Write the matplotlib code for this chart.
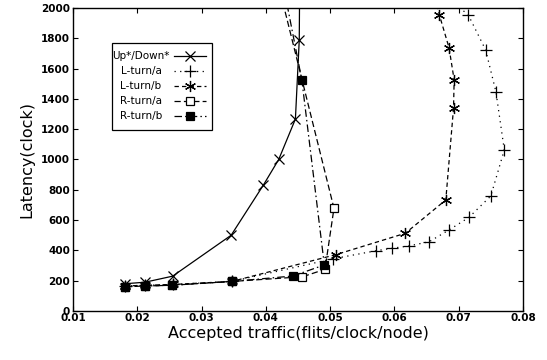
import matplotlib.pyplot as plt
from matplotlib.lines import Line2D
from matplotlib.patches import Rectangle

# Datos
updown_x = [0.0181, 0.0212, 0.0255, 0.0346, 0.0396, 0.0420, 0.0446, 0.0452, 0.0454]
updown_y = [180, 190, 230, 500, 830, 1000, 1267, 1790, 3000]

lturn_a_x = [0.0181, 0.0212, 0.0255, 0.0347, 0.0505, 0.0572, 0.0596, 0.0622, 0.0654,
             0.0685, 0.0716, 0.0750, 0.0771, 0.0758, 0.0742, 0.0715, 0.0680]
lturn_a_y = [165, 170, 175, 195, 345, 398, 414, 429, 457,
             535, 618, 759, 1063, 1447, 1723, 1954, 2080]

lturn_b_x = [0.0181, 0.0212, 0.0255, 0.0347, 0.0509, 0.0617, 0.0680, 0.0692, 0.0693,
             0.0685, 0.0670, 0.0660]
lturn_b_y = [165, 170, 175, 195, 372, 513, 733, 1338, 1525,
             1738, 1954, 2150]

rturn_a_x = [0.0181, 0.0212, 0.0254, 0.0347, 0.0457, 0.0492, 0.0506, 0.0411]
rturn_a_y = [160, 165, 170, 195, 226, 275, 678, 2300]

rturn_b_x = [0.0181, 0.0212, 0.0254, 0.0347, 0.0442, 0.0491, 0.0456, 0.0411]
rturn_b_y = [160, 165, 170, 195, 231, 304, 1525, 2500]

xticks = [0.01, 0.02, 0.03, 0.04, 0.05, 0.06, 0.07, 0.08]
yticks = list(range(0, 2001, 200))

series = [
    ("Up*/Down*", updown_x, updown_y, dict(ls="-", marker="x", ms=7, mfc="none")),
    ("L-turn/a", lturn_a_x, lturn_a_y, dict(ls=(0, (1, 3.5)), marker="+", ms=8, mfc="none")),
    ("L-turn/b", lturn_b_x, lturn_b_y, dict(ls=(0, (3.5, 2.5)), marker=(6, 2, 0), ms=8, mfc="none")),
    ("R-turn/a", rturn_a_x, rturn_a_y, dict(ls=(0, (5, 2.5)), marker="s", ms=6, mfc="white")),
    ("R-turn/b", rturn_b_x, rturn_b_y, dict(ls=(0, (6, 2.5, 1.2, 2.5)), marker="s", ms=6, mfc="black")),
]

plt.rcParams["font.family"] = "DejaVu Sans"

fig = plt.figure(figsize=(5.47, 3.60), dpi=100)
ax = fig.add_axes([0.1335, 0.1361, 0.8225, 0.8417])

for nombre, xs, ys, estilo in series:
    ax.plot(xs, ys, color="black", lw=0.9, mec="black", mew=0.9, **estilo)

ax.set_xlim(0.01, 0.08)
ax.set_ylim(0, 2000)
ax.set_xticks(xticks)
ax.set_xticklabels([f"{v:.2f}" for v in xticks], fontweight="bold", fontsize=7.5)
ax.set_yticks(yticks)
ax.set_yticklabels([str(v) for v in yticks], fontweight="bold", fontsize=7.5)
ax.tick_params(direction="in", top=True, right=True, length=3.5, width=0.8)
ax.tick_params(axis="x", pad=1.5)
ax.tick_params(axis="y", pad=2)
for sp in ax.spines.values():
    sp.set_linewidth(1.0)

ax.set_xlabel("Accepted traffic(flits/clock/node)", fontsize=11.5, labelpad=2)
ax.set_ylabel("Latency(clock)", fontsize=11.5, labelpad=5)

# Leyenda dibujada a mano (estilo gnuplot)
def px(x, y):
    return ((x - 73) / 450.0, (311 - y) / 303.0)

x0, y0 = px(112, 43)
x1, y1 = px(212, 130)
ax.add_patch(Rectangle((x0, y1), x1 - x0, y0 - y1, transform=ax.transAxes,
                       fill=False, lw=0.9, ec="black", zorder=5))
filas = [56, 71, 86, 101, 116]
for (nombre, xs, ys, estilo), fy in zip(series, filas):
    tx, ty = px(141, fy)
    ax.text(tx, ty, nombre, transform=ax.transAxes, ha="center", va="center",
            fontsize=7.5, zorder=6)
    hx0, hy = px(174, fy)
    hx1, _ = px(206, fy)
    est = dict(estilo)
    ax.add_line(Line2D([hx0, hx1], [hy, hy], transform=ax.transAxes, color="black",
                       lw=0.9, ls=est.pop("ls"), zorder=6))
    mx, _ = px(190, fy)
    ax.add_line(Line2D([mx], [hy], transform=ax.transAxes, color="black", ls="none",
                       mec="black", mew=0.9, zorder=6, **est))

plt.savefig("out.png", dpi=100)
plt.close()
